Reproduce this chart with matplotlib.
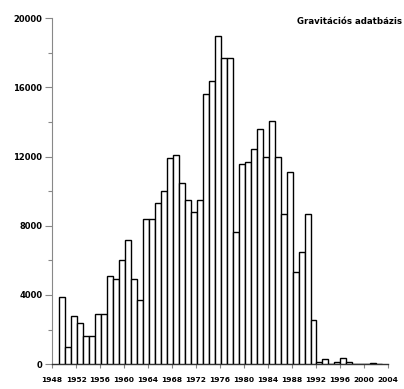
import matplotlib.pyplot as plt
import numpy as np

# éves darabszámok
years = list(range(1949, 2003))
counts = [3900, 1000, 2800, 2400, 1600, 1600, 2900, 2900, 5100, 4900,
          6000, 7200, 4950, 3700, 8400, 8400, 9300, 10000, 11900, 12100,
          10450, 9500, 8800, 9500, 15600, 16350, 19000, 17700, 17700, 7650,
          11600, 11700, 12450, 13600, 12000, 14050, 12000, 8700, 11100, 5300,
          6500, 8700, 2550, 130, 320, 0, 120, 380, 100, 0,
          0, 0, 60, 0]
xtick_years = list(range(1948, 2005, 4))
label = "Gravitációs adatbázis"

fig = plt.figure(figsize=(4.04, 3.89), dpi=100)
ax = fig.add_axes([0.129, 0.064, 0.831, 0.889])

ax.bar(np.array(years) + 0.1, counts, width=1.0, align='edge',
       color='white', edgecolor='black', linewidth=1.0, zorder=3)

ax.set_xlim(1948, 2004)
ax.set_ylim(0, 20000)

ax.set_xticks(xtick_years)
ax.set_xticklabels([str(y) for y in xtick_years], fontsize=5.4, fontweight='bold')
ax.set_yticks(range(0, 20001, 4000))
ax.set_yticklabels([str(v) for v in range(0, 20001, 4000)], fontsize=6, fontweight='bold')
ax.set_yticks(range(2000, 20000, 4000), minor=True)

ax.tick_params(axis='both', which='both', color='#888888', width=0.8)
ax.tick_params(axis='y', which='major', length=5, pad=2)
ax.tick_params(axis='y', which='minor', length=3)
ax.tick_params(axis='x', which='major', length=3, pad=6)

for side in ['top', 'right']:
    ax.spines[side].set_visible(False)
ax.spines['left'].set_color('#888888')
ax.spines['bottom'].set_color('#333333')
ax.spines['left'].set_linewidth(0.8)
ax.spines['bottom'].set_linewidth(1.0)

fig.text(402 / 404, 1 - 22 / 389, label, fontsize=6.2, fontweight='bold',
         ha='right', va='center')

fig.savefig('out.png', dpi=100)
